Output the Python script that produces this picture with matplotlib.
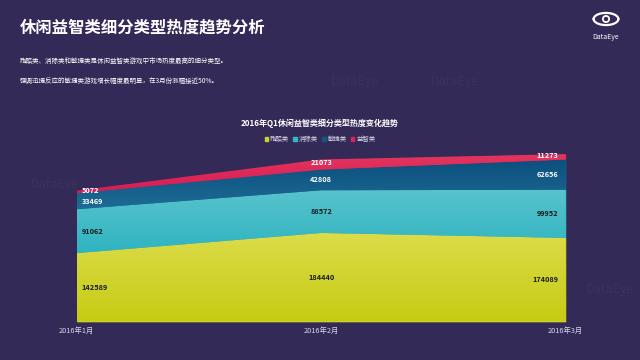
import matplotlib.pyplot as plt
import matplotlib.patches as mpatches
import matplotlib.colors as mcolors
import numpy as np

plt.rcParams['font.family'] = ['Noto Sans CJK SC', 'DejaVu Sans']

# data
months = ['2016年1月', '2016年2月', '2016年3月']
series_names = ['跑酷类', '消除类', '敏捷类', '益智类']
parkour = [142589, 184440, 174089]
elimination = [91062, 88572, 99952]
agility = [33469, 42808, 62656]
puzzle = [5072, 21073, 11273]

title = '休闲益智类细分类型热度趋势分析'
subtitle1 = '跑酷类、消除类和敏捷类是休闲益智类游戏中市场热度最高的细分类型。'
subtitle2 = '强调迅捷反应的敏捷类游戏增长幅度最明显，在3月份涨幅接近50%。'
chart_title = '2016年Q1休闲益智类细分类型热度变化趋势'

bg = '#342a58'
# (top colour, bottom colour) of each band's gradient
band_colors = [('#dcdc4a', '#c6cb12'), ('#58c3cc', '#2fb4c1'),
               ('#0d4f7e', '#1d6c95'), ('#e2365e', '#d81b55')]
legend_colors = ['#c9d32a', '#35b6c3', '#13557f', '#dd2258']
label_colors = ['#1a1a1a', '#1a1a1a', 'white', 'white']

fig = plt.figure(figsize=(6.4, 3.6), dpi=100)
fig.patch.set_facecolor(bg)

ax = fig.add_axes([0.120, 0.106, 0.764, 0.478])
ax.set_facecolor(bg)

x = np.arange(len(months))
layers = [parkour, elimination, agility, puzzle]
base = np.zeros(len(x))
for i, vals in enumerate(layers):
    top = base + np.array(vals)
    poly = ax.fill_between(x, base, top, color=band_colors[i][1], lw=0)
    # vertical gradient clipped to the band
    grad = np.linspace(0, 1, 256).reshape(-1, 1)
    c_top = np.array(mcolors.to_rgb(band_colors[i][0]))
    c_bot = np.array(mcolors.to_rgb(band_colors[i][1]))
    img = c_top[None, None, :] * (1 - grad[:, :, None]) + c_bot[None, None, :] * grad[:, :, None]
    im = ax.imshow(img, extent=[0, 2, base.min(), top.max()], aspect='auto',
                   origin='upper', zorder=2)
    im.set_clip_path(poly.get_paths()[0], ax.transData)
    # data labels in the middle of each band
    for j in range(len(x)):
        mid = base[j] + vals[j] / 2
        if i == 3:
            mid = base[j] + vals[j] * 0.6 + 1500
        ha = ['left', 'center', 'right'][j]
        dx = [0.02, 0, -0.03][j]
        ax.text(x[j] + dx, mid, str(vals[j]), ha=ha, va='center', fontsize=5.3,
                fontweight='bold', color=label_colors[i], zorder=5)
    base = top

ax.plot(x, np.zeros(len(x)), color='#e8e6a0', lw=1, zorder=4)
ax.set_xlim(0, 2)
ax.set_ylim(0, 357000)
ax.set_xticks(x)
ax.set_xticklabels(months, fontsize=5.3, color='#d8d6e6')
ax.tick_params(axis='x', length=0, pad=4)
ax.set_yticks([])
for s in ax.spines.values():
    s.set_visible(False)

# header texts
fig.text(20 / 640, 1 - 28 / 360, title, fontsize=11.75, fontweight='bold',
         color='white', va='center', ha='left')
fig.text(20 / 640, 1 - 61 / 360, subtitle1, fontsize=4.7, color='white',
         va='center', ha='left')
fig.text(20 / 640, 1 - 81 / 360, subtitle2, fontsize=4.7, color='white',
         va='center', ha='left')
fig.text(0.5, 1 - 123 / 360, chart_title, fontsize=5.8, fontweight='bold',
         color='white', va='center', ha='center')

# legend
handles = [mpatches.Patch(color=c, label=n) for c, n in zip(legend_colors, series_names)]
leg = fig.legend(handles=handles, loc='center', bbox_to_anchor=(0.5, 1 - 139 / 360),
                 ncol=4, frameon=False, fontsize=4.6, handlelength=0.6,
                 handleheight=0.6, handletextpad=0.3, columnspacing=0.6)
for t in leg.get_texts():
    t.set_color('#d8d6e6')

# DataEye logo (top right)
logo = fig.add_axes([588 / 640, 1 - 30 / 360, 36 / 640, 22 / 360])
logo.set_xlim(-1.6, 1.6)
logo.set_ylim(-1, 1)
logo.axis('off')
t = np.linspace(0, np.pi, 100)
logo.plot(np.cos(t) * 1.1, np.sin(t) * 0.55, color='white', lw=1.6)
logo.plot(np.cos(t) * 1.1, -np.sin(t) * 0.55, color='white', lw=1.6)
logo.add_patch(mpatches.Circle((0, 0), 0.28, fill=False, ec='white', lw=1.3))
fig.text(606 / 640, 1 - 37 / 360, 'DataEye', fontsize=5, color='white',
         ha='center', va='center')

# faint watermarks
for wx, wy in [(355, 82), (455, 82), (55, 185), (610, 290)]:
    fig.text(wx / 640, 1 - wy / 360, 'DataEye', fontsize=9, color='white',
             alpha=0.035, ha='center', va='center')

fig.savefig('out.png', dpi=100, facecolor=bg)
